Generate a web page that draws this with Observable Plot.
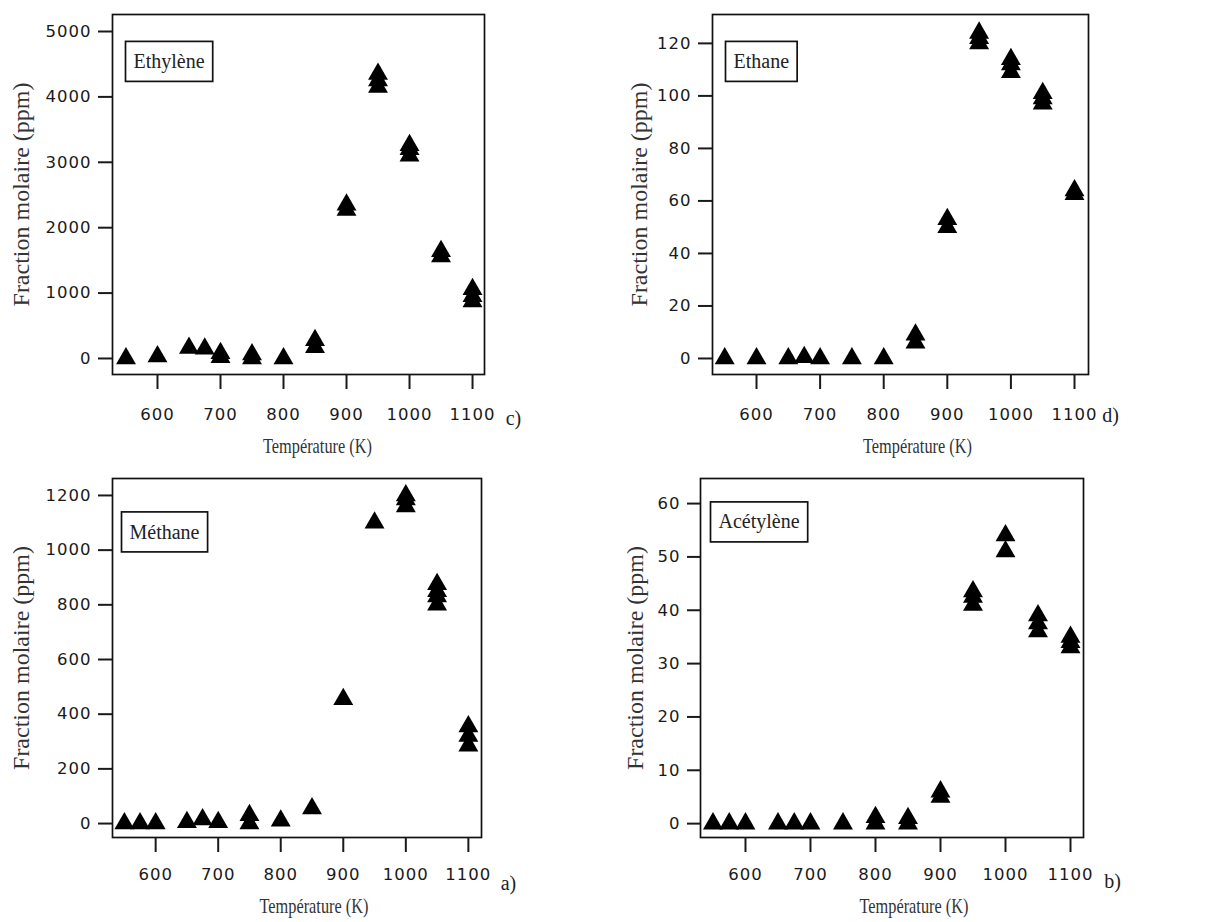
<!DOCTYPE html>
<html><head><meta charset="utf-8">
<script src="https://cdn.jsdelivr.net/npm/d3@7"></script>
<script src="https://cdn.jsdelivr.net/npm/@observablehq/plot@0.6"></script>
<style>
body{margin:0;background:#fff;}
#wrap{position:relative;width:1217px;height:922px;background:#fff;}
.panel{position:absolute;}
.panel g[aria-label="x-axis tick label"] text,
.panel g[aria-label="y-axis tick label"] text{letter-spacing:1px;}
</style></head>
<body><div id="wrap"></div>
<script>
// ---- data ----
const xTicks = [600, 700, 800, 900, 1000, 1100];

const ethyleneT = [550, 600, 650, 675, 700, 700, 750, 750, 800, 850, 850, 900, 900, 950, 950, 950, 1000, 1000, 1000, 1050, 1050, 1100, 1100, 1100];
const ethyleneV = [0, 30, 160, 150, 80, 20, 60, 0, 0, 170, 280, 2270, 2350, 4150, 4250, 4350, 3100, 3200, 3260, 1560, 1640, 870, 950, 1060];
const ethyleneTicks = [0, 1000, 2000, 3000, 4000, 5000];

const ethaneT = [550, 600, 650, 675, 700, 750, 800, 850, 850, 900, 900, 950, 950, 950, 1000, 1000, 1000, 1050, 1050, 1050, 1100, 1100];
const ethaneV = [0, 0, 0, 0.5, 0, 0, 0, 6, 9, 50, 53, 120, 122, 124, 109, 112, 114, 97, 99, 101, 62.5, 64];
const ethaneTicks = [0, 20, 40, 60, 80, 100, 120];

const methaneT = [550, 575, 600, 650, 675, 700, 750, 750, 800, 850, 900, 950, 1000, 1000, 1000, 1050, 1050, 1050, 1050, 1100, 1100, 1100];
const methaneV = [0, 0, 0, 5, 15, 5, 0, 30, 10, 55, 455, 1100, 1160, 1185, 1200, 800, 830, 850, 875, 285, 320, 355];
const methaneTicks = [0, 200, 400, 600, 800, 1000, 1200];

const acetyleneT = [550, 575, 600, 650, 675, 700, 750, 800, 800, 850, 850, 900, 900, 950, 950, 950, 1000, 1000, 1050, 1050, 1050, 1100, 1100, 1100];
const acetyleneV = [0, 0, 0, 0, 0, 0, 0, 0, 1.2, 0, 1, 5, 6, 41, 42.5, 43.5, 51, 54, 36, 37.5, 39, 33, 34, 35];
const acetyleneTicks = [0, 10, 20, 30, 40, 50, 60];

const yLabel = "Fraction molaire (ppm)";
const xLabel = "Température (K)";

// ---- layout ----
const panels = [
  {name: "Ethylène", letter: "c)", T: ethyleneT, V: ethyleneV, yTicks: ethyleneTicks,
   left: 0, top: 0, w: 600, h: 460, mL: 112, mR: 116, mT: 14, mB: 86,
   xDom: [528.6, 1119], yDom: [-245, 5260], ySize: 14, xPad: 19,
   legDx: 21, legDy: 47, yLabDx: -91, xLabDx: 19, xLabDy: 72, letDx: 29, letDy: 44},
  {name: "Ethane", letter: "d)", T: ethaneT, V: ethaneV, yTicks: ethaneTicks,
   left: 600, top: 0, w: 617, h: 460, mL: 112, mR: 129, mT: 14, mB: 86,
   xDom: [530.8, 1122], yDom: [-6.1, 131], ySize: 14, xPad: 19,
   legDx: 21, legDy: 47.5, yLabDx: -73, xLabDx: 17, xLabDy: 72, letDx: 22, letDy: 41},
  {name: "Méthane", letter: "a)", T: methaneT, V: methaneV, yTicks: methaneTicks,
   left: 0, top: 460, w: 600, h: 462, mL: 112, mR: 119, mT: 18, mB: 85,
   xDom: [531, 1121], yDom: [-51, 1262], ySize: 14, xPad: 16,
   legDx: 17, legDy: 54, yLabDx: -91, xLabDx: 17, xLabDy: 69, letDx: 27, letDy: 46},
  {name: "Acétylène", letter: "b)", T: acetyleneT, V: acetyleneV, yTicks: acetyleneTicks,
   left: 600, top: 460, w: 617, h: 462, mL: 100, mR: 134, mT: 18, mB: 85,
   xDom: [530.8, 1120], yDom: [-2.6, 64.7], ySize: 13, xPad: 16,
   legDx: 18, legDy: 43.5, yLabDx: -65, xLabDx: 22, xLabDy: 69, letDx: 29, letDy: 44}
];

const serif = "'Liberation Serif', 'Times New Roman', serif";
const wrap = document.getElementById("wrap");

for (const p of panels) {
  const data = p.T.map((t, i) => ({T: t, v: p.V[i]}));
  const chart = Plot.plot({
    width: p.w, height: p.h,
    marginLeft: p.mL, marginRight: p.mR, marginTop: p.mT, marginBottom: p.mB,
    x: {domain: p.xDom},
    y: {domain: p.yDom},
    style: {fontFamily: "'DejaVu Sans', sans-serif", fontSize: "16.5px", color: "#1a1a1a", background: "white", overflow: "visible"},
    marks: [
      Plot.frame({stroke: "#111", strokeWidth: 1.7}),
      Plot.axisX({ticks: xTicks, tickSize: 15, tickPadding: p.xPad, tickFormat: d3.format("d"), label: null, strokeWidth: 2}),
      Plot.axisY({ticks: p.yTicks, tickSize: p.ySize, tickPadding: 7, tickFormat: d3.format("d"), label: null, strokeWidth: 2}),
      Plot.dot(data, {x: "T", y: "v", symbol: "triangle", r: 7.4, fill: "#000", stroke: "none"}),
      Plot.text([p.name], {text: d => d, frameAnchor: "top-left", textAnchor: "start", lineAnchor: "middle",
        dx: p.legDx, dy: p.legDy, fontFamily: serif, fontSize: 20, fill: "#222"}),
      Plot.text([yLabel], {text: d => d, frameAnchor: "left", rotate: -90, textAnchor: "middle", lineAnchor: "middle",
        dx: p.yLabDx, fontFamily: serif, fontSize: 24, fill: "#333"}),
      Plot.text([xLabel], {text: d => d, frameAnchor: "bottom", textAnchor: "middle", lineAnchor: "middle",
        dx: p.xLabDx, dy: p.xLabDy, fontFamily: serif, fontSize: 21, fill: "#333"}),
      Plot.text([p.letter], {text: d => d, frameAnchor: "bottom-right", textAnchor: "middle", lineAnchor: "middle",
        dx: p.letDx, dy: p.letDy, fontFamily: serif, fontSize: 20, fill: "#222"})
    ]
  });
  const div = document.createElement("div");
  div.className = "panel";
  div.style.left = p.left + "px";
  div.style.top = p.top + "px";
  div.appendChild(chart);
  wrap.appendChild(div);

  // legend box around the species name, and narrow x label
  chart.querySelectorAll("text").forEach(t => {
    if (t.textContent === p.name) {
      const bb = t.getBBox();
      const cy = bb.y + bb.height / 2;
      const r = document.createElementNS("http://www.w3.org/2000/svg", "rect");
      r.setAttribute("x", bb.x - 8);
      r.setAttribute("y", cy - 20);
      r.setAttribute("width", bb.width + 16);
      r.setAttribute("height", 40);
      r.setAttribute("fill", "white");
      r.setAttribute("stroke", "#111");
      r.setAttribute("stroke-width", 1.7);
      const tr = t.getAttribute("transform");
      if (tr) r.setAttribute("transform", tr);
      t.parentNode.insertBefore(r, t);
    } else if (t.textContent === xLabel) {
      t.setAttribute("textLength", 109);
      t.setAttribute("lengthAdjust", "spacingAndGlyphs");
    }
  });
}
</script>
</body></html>
